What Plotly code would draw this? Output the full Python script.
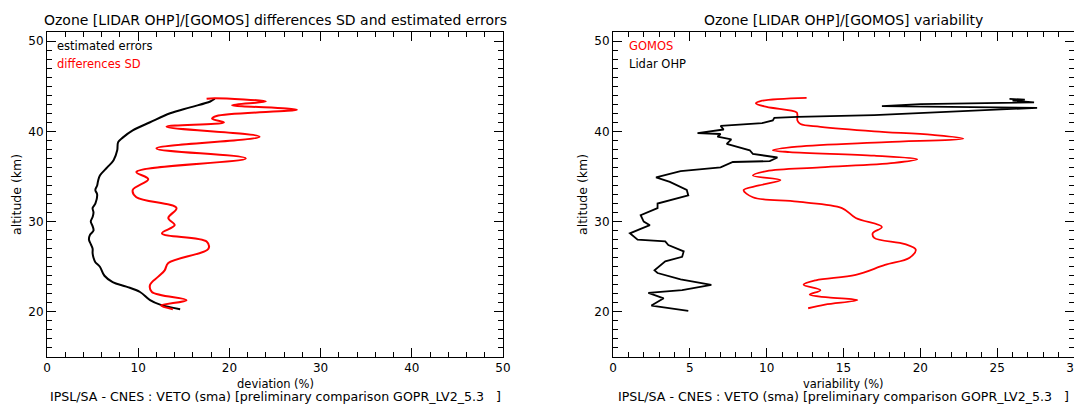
import plotly.graph_objects as go

# ---- Left panel: differences SD and estimated errors ----
alt_err = [20.3, 20.8, 21.3, 22.2, 22.8, 23.3, 24.0, 25.0, 25.5, 26.0, 26.5, 27.0, 27.5, 28.0,
           28.5, 29.0, 29.5, 30.0, 30.5, 31.0, 31.5, 32.0, 33.0, 33.5, 34.0, 34.5, 35.1, 36.0,
           36.8, 37.9, 38.8, 39.3, 40.1, 41.0, 42.0, 42.65, 43.3, 43.6]
est_err = [14.6, 12.4, 11.3, 10.2, 8.7, 7.2, 6.3, 5.8, 5.3, 5.1, 5.0, 5.0, 4.8, 4.6,
           4.7, 5.1, 5.0, 4.8, 5.0, 5.1, 5.0, 5.3, 5.5, 5.3, 5.5, 5.6, 5.8, 6.6,
           7.3, 7.7, 7.8, 8.3, 9.4, 11.3, 13.5, 15.7, 17.9, 18.4]

alt_sd = [20.3, 20.7, 21.3, 22.2, 23.0, 23.9, 24.6, 25.4, 27.0, 27.8, 28.7, 29.6, 30.4, 31.5,
          32.7, 33.5, 34.7, 35.5, 37.0, 38.1, 39.4, 40.5, 41.0, 41.4, 41.7, 42.4, 42.9, 43.3,
          43.65, 43.6]
diff_sd = [13.8, 12.5, 15.3, 11.5, 11.3, 12.2, 12.9, 13.3, 17.7, 17.5, 12.6, 14.0, 13.3, 14.2,
           9.8, 9.4, 11.1, 9.8, 21.8, 12.0, 23.3, 13.1, 19.4, 18.1, 18.6, 27.4, 20.3, 24.0,
           18.4, 17.5]

# ---- Right panel: variability ----
alt_gomos = [20.4, 20.8, 21.3, 21.6, 21.9, 22.4, 23.0, 23.5, 24.1, 25.2, 26.0, 26.9, 27.5, 28.2,
             28.7, 29.4, 30.4, 31.5, 32.2, 32.7, 33.5, 34.0, 34.6, 35.1, 35.6, 36.0, 36.5, 36.9,
             37.3, 37.7, 37.9, 38.3, 38.8, 39.2, 39.6, 40.0, 40.5, 40.8, 41.2, 41.8, 42.1, 42.7,
             43.1, 43.35, 43.7]
var_gomos = [12.7, 13.8, 15.9, 14.0, 12.8, 13.5, 12.4, 13.2, 15.8, 17.7, 19.3, 19.7, 19.0, 17.0,
             16.9, 17.5, 15.8, 14.9, 12.0, 9.1, 8.5, 9.5, 10.9, 9.1, 10.0, 13.5, 18.3, 19.8,
             17.0, 11.5, 10.4, 12.0, 17.8, 22.8, 20.8, 17.0, 13.5, 12.2, 12.0, 12.0, 11.95, 10.0,
             9.3, 9.6, 12.6]

alt_lidar = [20.1, 20.7, 21.5, 22.1, 22.4, 23.0, 23.6, 24.3, 24.6, 25.6, 26.1, 26.7, 27.4, 27.8,
             28.0, 28.7, 29.2, 29.6, 30.0, 30.7, 31.5, 32.0, 32.9, 33.5, 34.4, 34.9, 35.6, 36.0,
             36.6, 36.7, 37.1, 37.5, 37.9, 38.6, 39.1, 39.4, 39.7, 39.8, 40.2, 40.6, 40.9, 41.2,
             41.5, 41.6, 41.8, 42.2, 42.6, 42.8, 43.0, 43.2, 43.4, 43.5, 43.6]
var_lidar = [4.9, 2.5, 3.3, 2.3, 4.5, 6.4, 4.4, 2.9, 2.7, 3.4, 4.5, 4.6, 3.6, 3.4,
             1.6, 1.1, 1.8, 2.4, 2.0, 1.8, 2.9, 2.9, 4.9, 4.8, 3.7, 2.8, 4.4, 7.0,
             7.8, 10.2, 10.7, 9.1, 8.9, 7.4, 7.7, 6.8, 7.0, 5.5, 7.2, 7.0, 9.7, 10.4,
             10.5, 12.0, 17.0, 22.5, 27.6, 17.5, 20.0, 27.4, 26.0, 26.8, 25.8]

left_xticks = [0, 10, 20, 30, 40, 50]
right_xticks = [0, 5, 10, 15, 20, 25, 30]
yticks = [20, 30, 40, 50]

title_left = "Ozone [LIDAR OHP]/[GOMOS] differences SD and estimated errors"
title_right = "Ozone [LIDAR OHP]/[GOMOS] variability"
footer = "IPSL/SA - CNES : VETO (sma) [preliminary comparison GOPR_LV2_5.3   ]"

FONT = "DejaVu Sans"
W, H = 1082, 405
OFF = 8  # page body margin offset compensation
fig = go.Figure()

fig.add_trace(go.Scatter(x=est_err, y=alt_err, mode="lines", line=dict(color="black", width=2, shape="spline"),
                         xaxis="x", yaxis="y", showlegend=False))
fig.add_trace(go.Scatter(x=diff_sd, y=alt_sd, mode="lines", line=dict(color="red", width=2, shape="spline"),
                         xaxis="x", yaxis="y", showlegend=False))
fig.add_trace(go.Scatter(x=var_gomos, y=alt_gomos, mode="lines", line=dict(color="red", width=1.8, shape="spline"),
                         xaxis="x2", yaxis="y2", showlegend=False))
fig.add_trace(go.Scatter(x=var_lidar, y=alt_lidar, mode="lines", line=dict(color="black", width=1.8, shape="linear"),
                         xaxis="x2", yaxis="y2", showlegend=False))

def px_x(x):
    return (x - OFF) / W

def px_y(y):
    return 1 - (y - OFF) / H

ydom = [px_y(357), px_y(32)]
lx = [px_x(47), px_x(503)]
rx = [px_x(613), px_x(1074)]

axis_common = dict(showline=True, linecolor="black", linewidth=1, mirror="allticks", ticks="inside",
                   ticklen=9, tickwidth=1, tickcolor="black", showgrid=False, zeroline=False,
                   automargin=False,
                   tickfont=dict(family=FONT, size=12, color="black"))

fig.update_layout(
    template="none",
    width=W, height=H, margin=dict(l=0, r=0, t=0, b=0, autoexpand=False),
    paper_bgcolor="white", plot_bgcolor="white",
    xaxis=dict(domain=lx, range=[0, 50], tickmode="array", tickvals=left_xticks, anchor="y",
               minor=dict(dtick=2, ticks="inside", ticklen=5, tickcolor="black"), **axis_common),
    yaxis=dict(domain=ydom, range=[15, 51], tickmode="array", tickvals=yticks, anchor="x",
               minor=dict(dtick=1, ticks="inside", ticklen=5, tickcolor="black"), **axis_common),
    xaxis2=dict(domain=rx, range=[0, 30], tickmode="array", tickvals=right_xticks, anchor="y2",
                minor=dict(dtick=1, ticks="inside", ticklen=5, tickcolor="black"), **axis_common),
    yaxis2=dict(domain=ydom, range=[15, 51], tickmode="array", tickvals=yticks, anchor="x2",
                minor=dict(dtick=1, ticks="inside", ticklen=5, tickcolor="black"), **axis_common),
)

def ann(text, x, y, size=12, color="black", angle=0, xanchor="center"):
    fig.add_annotation(text=text, x=px_x(x), y=px_y(y), xref="paper", yref="paper", showarrow=False,
                       font=dict(family=FONT, size=size, color=color), textangle=angle,
                       xanchor=xanchor, yanchor="middle")

lc = (47 + 503) / 2
rc = (613 + 1074) / 2
ann(title_left, lc, 20, size=14)
ann(title_right, rc, 20, size=14)
ann("deviation (%)", lc, 384, size=11.5)
ann("variability (%)", rc, 384, size=11.5)
ann(footer, lc, 396.5, size=12.6)
ann(footer, rc, 396.5, size=12.6)
ann("altitude (km)", 17, 195, size=12.5, angle=-90)
ann("altitude (km)", 583, 195, size=12.5, angle=-90)
ann("estimated errors", 55, 46, size=11.5, xanchor="left")
ann("differences SD", 55, 64, size=11.5, color="red", xanchor="left")
ann("GOMOS", 627, 46, size=11.5, color="red", xanchor="left")
ann("Lidar OHP", 627, 64, size=11.5, xanchor="left")

fig.write_html("out.html")
